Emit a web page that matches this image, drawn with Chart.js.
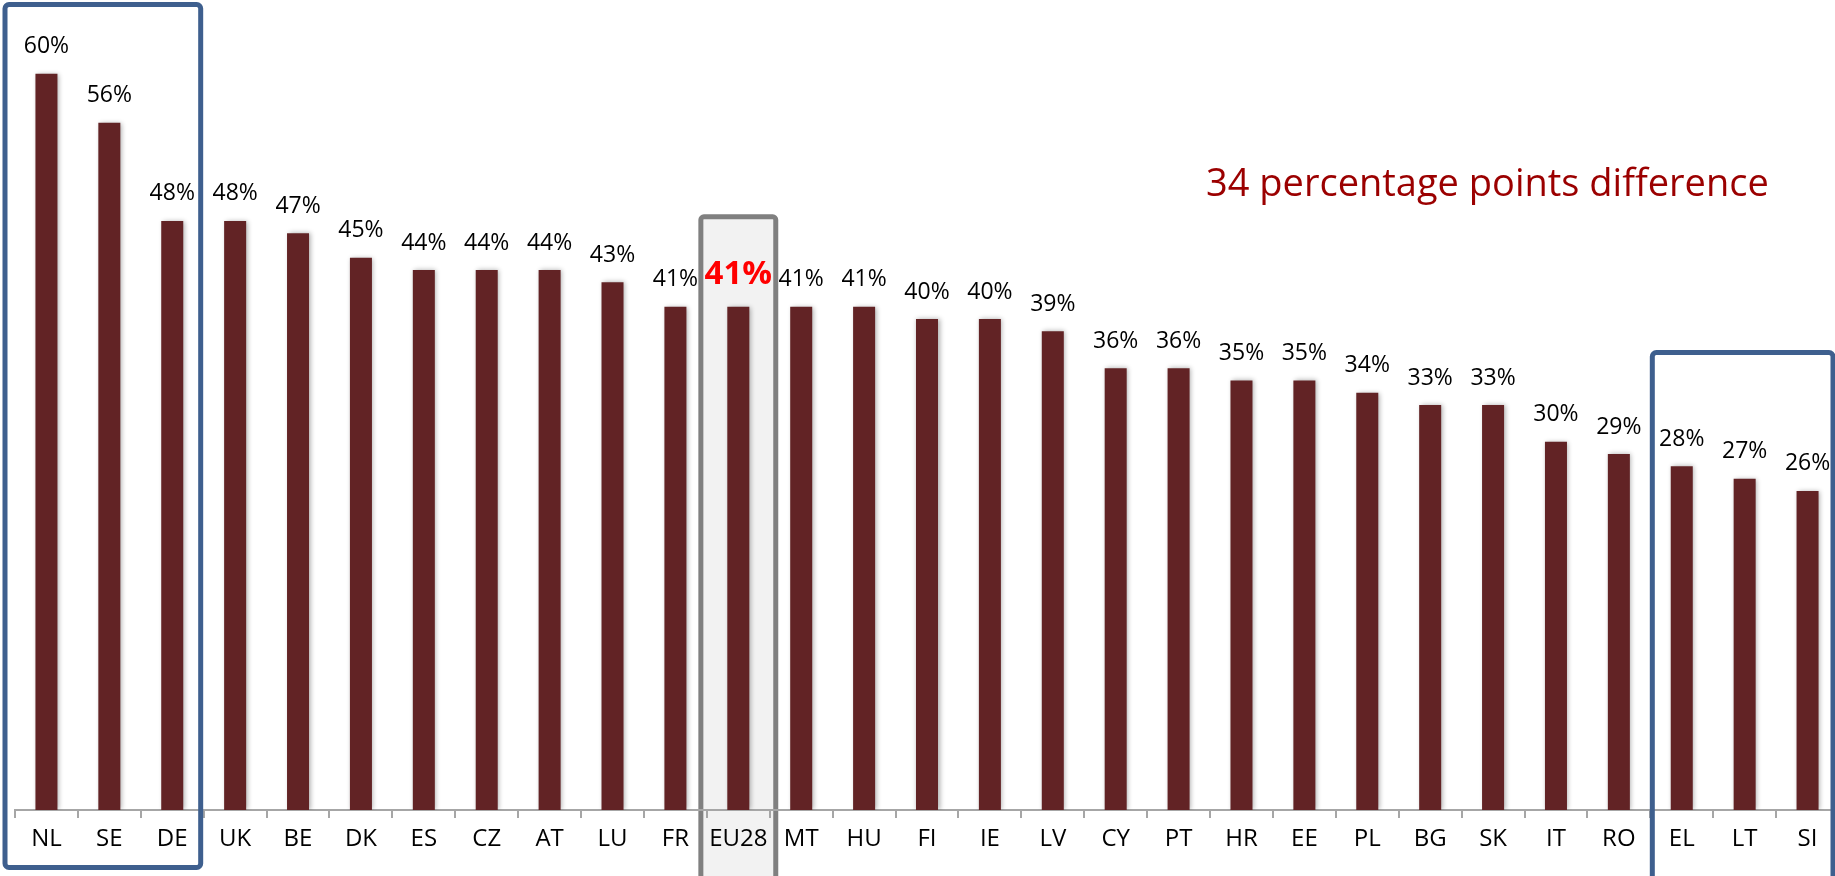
<!DOCTYPE html>
<html>
<head>
<meta charset="utf-8">
<script src="https://cdn.jsdelivr.net/npm/chart.js@4.4.1/dist/chart.umd.min.js"></script>
<style>
  html, body { margin: 0; padding: 0; background: #fff; overflow: hidden; }
  #wrap { position: relative; width: 1839px; height: 876px; }
</style>
</head>
<body>
<div id="wrap"><canvas id="c" width="1839" height="876"></canvas></div>
<script>
const categories = ["NL","SE","DE","UK","BE","DK","ES","CZ","AT","LU","FR","EU28","MT","HU","FI","IE","LV","CY","PT","HR","EE","PL","BG","SK","IT","RO","EL","LT","SI"];
const values = [60,56,48,48,47,45,44,44,44,43,41,41,41,41,40,40,39,36,36,35,35,34,33,33,30,29,28,27,26];
const highlightCategory = "EU28";
const topGroup = ["NL","SE","DE"];
const bottomGroup = ["EL","LT","SI"];
const annotationText = "34 percentage points difference";

const FONT = "'Open Sans', 'DejaVu Sans', sans-serif";

const shadowPlugin = {
  id: 'shadow',
  beforeDatasetsDraw(chart) {
    const ctx = chart.ctx;
    ctx.save();
    ctx.shadowColor = 'rgba(0,0,0,0.33)';
    ctx.shadowBlur = 5;
    ctx.shadowOffsetX = 1.5;
    ctx.shadowOffsetY = 0;
  },
  afterDatasetsDraw(chart) {
    chart.ctx.restore();
  }
};

function catBounds(chart, name) {
  const xs = chart.scales.x;
  const i = categories.indexOf(name);
  const half = (xs.getPixelForValue(1) - xs.getPixelForValue(0)) / 2;
  const c = xs.getPixelForValue(i);
  return [c - half, c + half];
}

const boxesPlugin = {
  id: 'boxes',
  beforeDraw(chart) {
    const ctx = chart.ctx;
    const [l, r] = catBounds(chart, highlightCategory);
    const yTop = chart.scales.y.getPixelForValue(values[categories.indexOf(highlightCategory)]) - 90;
    ctx.save();
    ctx.fillStyle = '#f2f2f2';
    ctx.strokeStyle = '#808080';
    ctx.lineWidth = 5;
    ctx.beginPath();
    ctx.roundRect(l - 6, yTop, (r - l) + 12, chart.height - yTop + 10, 3);
    ctx.fill();
    ctx.stroke();
    ctx.restore();
  },
  afterDraw(chart) {
    const ctx = chart.ctx;
    ctx.save();
    ctx.strokeStyle = '#3e5f8e';
    ctx.lineWidth = 5;
    // top group box
    const [l1] = catBounds(chart, topGroup[0]);
    const [, r1] = catBounds(chart, topGroup[topGroup.length - 1]);
    ctx.beginPath();
    ctx.roundRect(l1 - 10, 4.5, (r1 - l1) + 7, 863, 4);
    ctx.stroke();
    // bottom group box
    const [l2] = catBounds(chart, bottomGroup[0]);
    const [, r2] = catBounds(chart, bottomGroup[bottomGroup.length - 1]);
    ctx.beginPath();
    ctx.roundRect(l2 + 2, 352.5, (r2 - l2) - 8, chart.height - 352.5 + 20, 4);
    ctx.stroke();
    // annotation text
    ctx.fillStyle = '#9b0000';
    ctx.font = "38px " + FONT;
    ctx.textAlign = 'left';
    ctx.textBaseline = 'middle';
    ctx.fillText(annotationText, 1206, 185);
    ctx.restore();
  }
};

const labelsPlugin = {
  id: 'valueLabels',
  afterDatasetsDraw(chart) {
    const ctx = chart.ctx;
    const meta = chart.getDatasetMeta(0);
    ctx.save();
    ctx.textAlign = 'center';
    ctx.textBaseline = 'middle';
    meta.data.forEach((bar, i) => {
      const txt = values[i] + '%';
      if (categories[i] === highlightCategory) {
        ctx.fillStyle = '#ff0000';
        ctx.font = "bold 33px " + FONT;
        ctx.fillText(txt, bar.x, bar.y - 32);
      } else {
        ctx.fillStyle = '#000000';
        ctx.font = "23px " + FONT;
        ctx.fillText(txt, bar.x, bar.y - 27);
      }
    });
    ctx.restore();
  }
};

new Chart(document.getElementById('c'), {
  type: 'bar',
  data: {
    labels: categories,
    datasets: [{
      data: values,
      backgroundColor: '#622325',
      borderWidth: 0,
      categoryPercentage: 1.0,
      barPercentage: 0.35
    }]
  },
  options: {
    responsive: false,
    animation: false,
    layout: { padding: { left: 15, right: 0, top: 0, bottom: 0 } },
    plugins: { legend: { display: false }, tooltip: { enabled: false } },
    scales: {
      x: {
        offset: true,
        grid: {
          offset: true,
          drawOnChartArea: false,
          drawTicks: true,
          tickLength: 8,
          color: '#a6a6a6',
          lineWidth: 2
        },
        border: { display: true, color: '#a6a6a6', width: 2 },
        ticks: {
          color: '#000000',
          font: { family: FONT, size: 24 },
          padding: 7,
          maxRotation: 0,
          autoSkip: false
        },
        afterFit(scale) { scale.height = 66; }
      },
      y: {
        display: false,
        min: 0,
        max: 66
      }
    }
  },
  plugins: [boxesPlugin, shadowPlugin, labelsPlugin]
});
</script>
</body>
</html>
